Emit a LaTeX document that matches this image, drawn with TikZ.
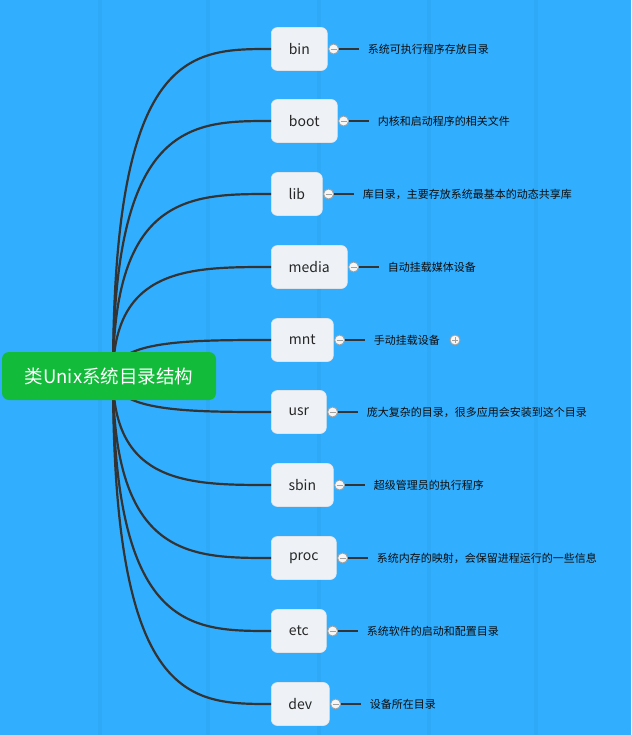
\documentclass[tikz,border=0pt]{standalone}
\usepackage{fontspec}
\setmainfont{Noto Sans CJK SC}
\definecolor{bgblue}{RGB}{50,174,254}
\definecolor{stripec}{RGB}{46,169,248}
\definecolor{rootgreen}{RGB}{19,187,58}
\definecolor{boxfill}{RGB}{238,242,246}
\definecolor{boxline}{RGB}{222,228,234}
\definecolor{linec}{RGB}{51,51,51}
\definecolor{togline}{RGB}{160,160,160}
\definecolor{togfill}{RGB}{246,246,246}
\begin{document}
\begin{tikzpicture}[x=1pt,y=-1pt,
  stripe/.style={fill=stripec},
  rootbox/.style={fill=rootgreen, rounded corners=7pt, minimum width=214pt, minimum height=48pt, inner sep=0pt, text=white, font=\fontsize{18.5}{20}\selectfont},
  childbox/.style={fill=boxfill, draw=boxline, line width=0.6pt, rounded corners=6pt, minimum height=43pt, inner sep=0pt, text=black!85, font=\fontsize{14}{16}\selectfont},
  tog/.style={circle, fill=togfill, draw=togline, line width=0.9pt, minimum size=10pt, inner sep=0pt},
  togmark/.style={draw=togline, line width=0.9pt},
  desctext/.style={inner sep=0pt, text=black!95, font=\fontsize{11}{13}\selectfont},
  conn/.style={draw=linec, line width=2.2pt},
  branch/.style={draw=linec, line width=2.6pt}
]
\useasboundingbox[fill=bgblue] (0,0) rectangle (631,735);
\foreach \x in {100,208,319,429,536} \fill[stripe] (\x-2,0) rectangle (\x+2,735);

\coordinate (hub) at (113,376);

\foreach \i/\y/\w/\lab/\desc in {
  1/49/56/bin/系统可执行程序存放目录,
  2/121/66/boot/内核和启动程序的相关文件,
  3/194/51/lib/库目录，主要存放系统最基本的动态共享库,
  4/267/76/media/自动挂载媒体设备,
  5/340/62/mnt/手动挂载设备,
  6/412/55/usr/庞大复杂的目录，很多应用会安装到这个目录,
  7/485/62/sbin/超级管理员的执行程序,
  8/558/65/proc/系统内存的映射，会保留进程运行的一些信息,
  9/631/55/etc/系统软件的启动和配置目录,
  10/704/58/dev/设备所在目录}{
  \node[childbox, minimum width=\w pt, anchor=west] (n\i) at (271,\y) {\lab};
  \draw[conn] (hub) .. controls (113,\y) and (190,\y) .. (n\i.west);
  \node[desctext, anchor=west] (d\i) at ([xshift=40pt]n\i.east) {\desc};
  \draw[branch] ([xshift=6pt]n\i.east) -- ([xshift=-9pt]d\i.west);
  \node[tog] (c\i) at ([xshift=6pt]n\i.east) {};
  \draw[togmark] ([xshift=-3pt]c\i.center) -- ([xshift=3pt]c\i.center);
}

\node[tog] (p5) at ([xshift=15pt]d5.east) {};
\draw[togmark] ([xshift=-3pt]p5.center) -- ([xshift=3pt]p5.center);
\draw[togmark] ([yshift=-3pt]p5.center) -- ([yshift=3pt]p5.center);

\node[rootbox] (root) at (109,376) {类Unix系统目录结构};
\end{tikzpicture}
\end{document}
